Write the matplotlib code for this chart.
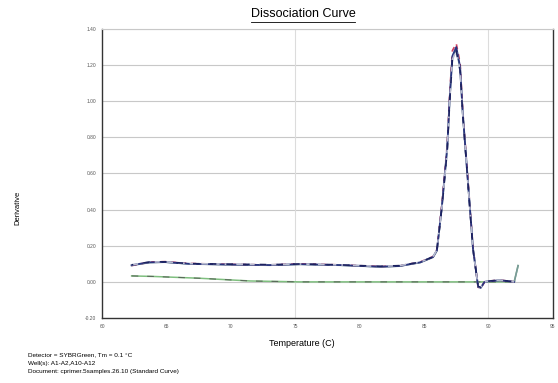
import matplotlib.pyplot as plt
from matplotlib.lines import Line2D

plt.rcParams['font.family'] = ['Liberation Sans', 'DejaVu Sans']

# Melt curve data (temperature in C, derivative)
temp = [62.3, 63.0, 63.7, 64.9, 66.8, 69.9, 73.0, 75.4, 78.5, 81.6, 83.1,
        84.7, 85.7, 86.0, 86.4, 86.8, 87.0, 87.2, 87.5, 87.8, 88.0, 88.4,
        88.8, 89.2, 89.4, 89.7, 90.1, 90.9, 92.0]
well_a1 = [0.090, 0.100, 0.110, 0.112, 0.102, 0.097, 0.094, 0.100, 0.094, 0.085, 0.089,
           0.110, 0.140, 0.180, 0.440, 0.760, 1.050, 1.280, 1.320, 1.210, 0.950, 0.570,
           0.190, -0.030, -0.035, 0.000, 0.005, 0.010, 0.000]
well_a2 = [0.092, 0.101, 0.108, 0.110, 0.100, 0.096, 0.093, 0.098, 0.093, 0.084, 0.088,
           0.108, 0.138, 0.175, 0.430, 0.745, 1.030, 1.250, 1.300, 1.190, 0.940, 0.560,
           0.185, -0.028, -0.033, 0.000, 0.004, 0.009, 0.000]
well_a10 = [0.094, 0.102, 0.110, 0.111, 0.101, 0.098, 0.095, 0.099, 0.094, 0.086, 0.090,
            0.109, 0.139, 0.178, 0.420, 0.730, 1.010, 1.230, 1.280, 1.170, 0.930, 0.555,
            0.180, -0.025, -0.030, 0.000, 0.005, 0.010, 0.000]
well_a11 = [0.091, 0.099, 0.107, 0.109, 0.099, 0.095, 0.092, 0.097, 0.092, 0.083, 0.087,
            0.107, 0.136, 0.172, 0.425, 0.740, 1.020, 1.240, 1.290, 1.180, 0.935, 0.560,
            0.182, -0.027, -0.032, 0.000, 0.004, 0.008, 0.000]
# no-template well
temp_ntc = [62.3, 64.0, 67.6, 71.5, 75.4, 80.0, 85.0, 89.0, 92.0, 92.3]
well_a12 = [0.033, 0.030, 0.020, 0.005, 0.000, 0.000, 0.000, 0.000, 0.000, 0.090]

x_ticks = [60, 65, 70, 75, 80, 85, 90, 95]
y_ticks = [-0.2, 0.0, 0.2, 0.4, 0.6, 0.8, 1.0, 1.2, 1.4]

fig = plt.figure(figsize=(5.58, 3.83), dpi=100)
ax = fig.add_axes([0.1828, 0.1697, 0.808, 0.7546])

for v in y_ticks[1:]:
    ax.axhline(v, color='#c8c8c8', lw=0.8, zorder=0)
for v in [75, 90]:
    ax.axvline(v, color='#dcdcdc', lw=0.8, zorder=0)

ax.plot(temp_ntc, well_a12, color='#7fbf7f', lw=1.1)
ax.plot(temp_ntc[:-1], well_a12[:-1], color='#5a6a5a', lw=0.8, ls=(0, (6, 8)))
ax.plot(temp + [92.3], well_a11 + [0.09], color='#7a9a9a', lw=1.2)
ax.plot(temp, well_a1, color='#d04060', lw=1.2, ls=(0, (3, 3)))
ax.plot(temp, well_a2, color='#2a3580', lw=1.3)
ax.plot(temp, well_a10, color='#b8bcd0', lw=1.2, ls=(0, (4, 3)))
ax.plot(temp, well_a10, color='#1c2260', lw=1.2, ls=(3, (4, 6)))

ax.set_xlim(60, 95)
ax.set_ylim(-0.2, 1.4)
ax.set_xticks(x_ticks)
ax.set_xticklabels([str(t) for t in x_ticks])
ax.set_yticks(y_ticks)
ax.set_yticklabels(['%.2f' % v for v in y_ticks])
ax.tick_params(length=0, labelsize=3.5, labelcolor='#555555', pad=4)

ax.spines['top'].set_color('#c8c8c8')
ax.spines['top'].set_linewidth(0.8)
for s in ['left', 'bottom', 'right']:
    ax.spines[s].set_color('#333333')
    ax.spines[s].set_linewidth(1.0)

fig.text(0.543, 0.963, 'Dissociation Curve', ha='center', va='center', fontsize=9)
fig.add_artist(Line2D([0.449, 0.637], [0.942, 0.942], color='black', lw=0.6))
fig.text(0.032, 0.457, 'Derivative', rotation=90, ha='center', va='center', fontsize=5.5)
fig.text(0.541, 0.104, 'Temperature (C)', ha='center', va='center', fontsize=6.5)

footer = ['Detector = SYBRGreen, Tm = 0.1 \u00b0C',
          'Well(s): A1-A2,A10-A12',
          'Document: cprimer.5samples.26.10 (Standard Curve)']
for i, line in enumerate(footer):
    fig.text(0.05, 0.073 - i * 0.021, line, ha='left', va='center', fontsize=4.6)

fig.savefig('out.png', dpi=100)
